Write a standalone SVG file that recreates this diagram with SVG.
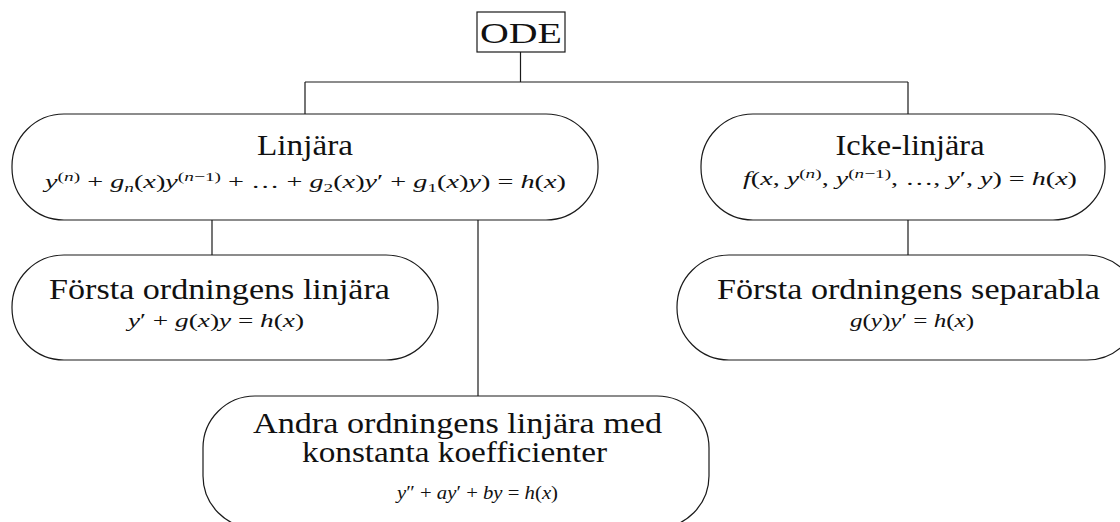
<svg xmlns="http://www.w3.org/2000/svg" width="1120" height="522" viewBox="0 0 1120 522">
  <style>
    .box { fill: #ffffff; stroke: #1a1a1a; stroke-width: 1.2; }
    .wire { fill: none; stroke: #1a1a1a; stroke-width: 1.2; }
    .title { font-family: "Liberation Serif", "DejaVu Serif", serif; font-size: 29px; fill: #111; }
    .math { font-family: "Liberation Serif", "DejaVu Serif", serif; font-size: 19px; fill: #111; }
    .i { font-style: italic; }
    .sup { font-size: 13px; baseline-shift: 7px; }
    .sub { font-size: 13px; baseline-shift: -4px; }
  </style>

  <!-- connectors -->
  <g id="connectors">
    <path class="wire" d="M520.5 52 V82 M305 82 H908 M305 82 V114 M908 82 V114"/>
    <path class="wire" d="M212 220 V255"/>
    <path class="wire" d="M478 220 V396"/>
    <path class="wire" d="M908 220 V255"/>
  </g>

  <!-- root -->
  <g id="ode">
    <rect x="477" y="12" width="88" height="40" fill="#fff" stroke="#1a1a1a" stroke-width="1.2"/>
    <text class="title" x="521" y="43" text-anchor="middle" font-size="31" textLength="82" lengthAdjust="spacingAndGlyphs">ODE</text>
  </g>

  <!-- linear equations -->
  <g id="linjara">
    <rect class="box" x="12" y="114" width="586" height="106" rx="52"/>
    <text class="title" x="305" y="155" text-anchor="middle" textLength="96" lengthAdjust="spacingAndGlyphs">Linjära</text>
    <text class="math" x="45" y="188" textLength="521" lengthAdjust="spacingAndGlyphs"><tspan class="i">y</tspan><tspan class="sup">(<tspan class="i">n</tspan>)</tspan> + <tspan class="i">g</tspan><tspan class="sub"><tspan class="i">n</tspan></tspan>(<tspan class="i">x</tspan>)<tspan class="i">y</tspan><tspan class="sup">(<tspan class="i">n</tspan>−1)</tspan> + … + <tspan class="i">g</tspan><tspan class="sub">2</tspan>(<tspan class="i">x</tspan>)<tspan class="i">y</tspan>′ + <tspan class="i">g</tspan><tspan class="sub">1</tspan>(<tspan class="i">x</tspan>)<tspan class="i">y</tspan>) = <tspan class="i">h</tspan>(<tspan class="i">x</tspan>)</text>
  </g>

  <!-- non-linear equations -->
  <g id="icke-linjara">
    <rect class="box" x="701" y="114" width="404" height="106" rx="52"/>
    <text class="title" x="910" y="155" text-anchor="middle" textLength="149" lengthAdjust="spacingAndGlyphs">Icke-linjära</text>
    <text class="math" x="743" y="185" textLength="334" lengthAdjust="spacingAndGlyphs"><tspan class="i">f</tspan>(<tspan class="i">x</tspan>, <tspan class="i">y</tspan><tspan class="sup">(<tspan class="i">n</tspan>)</tspan>, <tspan class="i">y</tspan><tspan class="sup">(<tspan class="i">n</tspan>−1)</tspan>, …, <tspan class="i">y</tspan>′, <tspan class="i">y</tspan>) = <tspan class="i">h</tspan>(<tspan class="i">x</tspan>)</text>
  </g>

  <!-- first order linear -->
  <g id="forsta-linjara">
    <rect class="box" x="12" y="255" width="426" height="105" rx="52"/>
    <text class="title" x="49" y="299" textLength="341" lengthAdjust="spacingAndGlyphs">Första ordningens linjära</text>
    <text class="math" x="128" y="327" textLength="176" lengthAdjust="spacingAndGlyphs"><tspan class="i">y</tspan>′ + <tspan class="i">g</tspan>(<tspan class="i">x</tspan>)<tspan class="i">y</tspan> = <tspan class="i">h</tspan>(<tspan class="i">x</tspan>)</text>
  </g>

  <!-- first order separable -->
  <g id="forsta-separabla">
    <rect class="box" x="677" y="255" width="462" height="105" rx="52"/>
    <text class="title" x="717" y="299" textLength="383" lengthAdjust="spacingAndGlyphs">Första ordningens separabla</text>
    <text class="math" x="850" y="327" textLength="124" lengthAdjust="spacingAndGlyphs"><tspan class="i">g</tspan>(<tspan class="i">y</tspan>)<tspan class="i">y</tspan>′ = <tspan class="i">h</tspan>(<tspan class="i">x</tspan>)</text>
  </g>

  <!-- second order, constant coefficients -->
  <g id="andra-ordningen">
    <rect class="box" x="203" y="396" width="506" height="132" rx="52"/>
    <text class="title" x="253" y="433" textLength="409" lengthAdjust="spacingAndGlyphs">Andra ordningens linjära med</text>
    <text class="title" x="302" y="462" textLength="305" lengthAdjust="spacingAndGlyphs">konstanta koefficienter</text>
    <text class="math" x="397" y="499" textLength="161" lengthAdjust="spacingAndGlyphs"><tspan class="i">y</tspan>″ + <tspan class="i">a</tspan><tspan class="i">y</tspan>′ + <tspan class="i">b</tspan><tspan class="i">y</tspan> = <tspan class="i">h</tspan>(<tspan class="i">x</tspan>)</text>
  </g>
</svg>
